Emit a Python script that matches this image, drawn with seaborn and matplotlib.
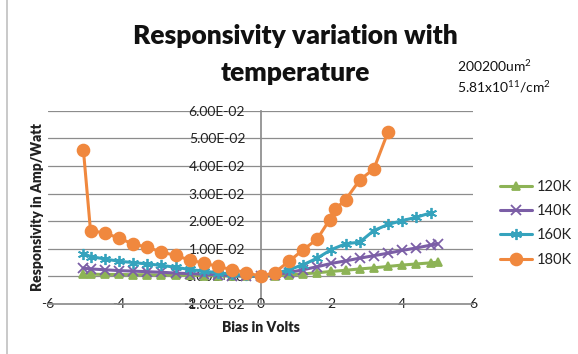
import numpy as np
import pandas as pd
import matplotlib
matplotlib.use("Agg")
import matplotlib.pyplot as plt
from matplotlib.lines import Line2D
from matplotlib.ticker import FuncFormatter
import seaborn as sns

# ---------------- data ----------------
x_common = [-5.0, -4.8, -4.4, -4.0, -3.6, -3.2, -2.8, -2.4, -2.0, -1.6, -1.2, -0.8, -0.4, 0.0,
            0.4, 0.8, 1.2, 1.6, 2.0, 2.4, 2.8, 3.2, 3.6, 4.0, 4.4, 4.8, 5.0]
y_120 = [0.0008, 0.0008, 0.0007, 0.0007, 0.0006, 0.0006, 0.0005, 0.0005, 0.0004, 0.0003, 0.0002, 0.0001, 0.0001, 0.0,
         0.0002, 0.0005, 0.0009, 0.0013, 0.0018, 0.0022, 0.0027, 0.0031, 0.0036, 0.0041, 0.0045, 0.0049, 0.0051]
y_140 = [0.0030, 0.0027, 0.0024, 0.0021, 0.0019, 0.0017, 0.0015, 0.0012, 0.0010, 0.0008, 0.0005, 0.0003, 0.0001, 0.0,
         0.0006, 0.0014, 0.0024, 0.0035, 0.0047, 0.0056, 0.0066, 0.0075, 0.0084, 0.0094, 0.0103, 0.0113, 0.0118]
x_160 = [-5.0, -4.8, -4.4, -4.0, -3.6, -3.2, -2.8, -2.4, -2.0, -1.6, -1.2, -0.8, -0.4, 0.0,
         0.4, 0.8, 1.2, 1.6, 2.0, 2.4, 2.8, 3.2, 3.6, 4.0, 4.4, 4.8]
y_160 = [0.0082, 0.0072, 0.0063, 0.0055, 0.0050, 0.0045, 0.0040, 0.0033, 0.0025, 0.0019, 0.0013, 0.0008, 0.0004, 0.0,
         0.0010, 0.0024, 0.0042, 0.0066, 0.0097, 0.0118, 0.0124, 0.0166, 0.0188, 0.0202, 0.0214, 0.0230]
x_180 = [-5.0, -4.8, -4.4, -4.0, -3.6, -3.2, -2.8, -2.4, -2.0, -1.6, -1.2, -0.8, -0.4, 0.0,
         0.4, 0.8, 1.2, 1.6, 1.95, 2.1, 2.4, 2.8, 3.2, 3.6]
y_180 = [0.0457, 0.0166, 0.0157, 0.0139, 0.0117, 0.0106, 0.0088, 0.0076, 0.0059, 0.0048, 0.0036, 0.0024, 0.0014, 0.0,
         0.0014, 0.0054, 0.0096, 0.0135, 0.0205, 0.0243, 0.0277, 0.0349, 0.0389, 0.0523]

series_names = ["120K", "140K", "160K", "180K"]
y_ticks = [-0.01, 0.0, 0.01, 0.02, 0.03, 0.04, 0.05, 0.06]
x_ticks = [-6, -4, -2, 0, 2, 4, 6]

frames = [
    pd.DataFrame({"Bias": x_common, "Resp": y_120, "Temp": "120K"}),
    pd.DataFrame({"Bias": x_common, "Resp": y_140, "Temp": "140K"}),
    pd.DataFrame({"Bias": x_160, "Resp": y_160, "Temp": "160K"}),
    pd.DataFrame({"Bias": x_180, "Resp": y_180, "Temp": "180K"}),
]

# ---------------- style ----------------
sns.set_theme(style="white")
plt.rcParams["font.family"] = ["Lato", "DejaVu Sans"]
plt.rcParams["mathtext.fontset"] = "custom"
plt.rcParams["mathtext.rm"] = "Lato"
plt.rcParams["mathtext.it"] = "Lato"
plt.rcParams["mathtext.bf"] = "Lato:bold"

colors = {"120K": "#8DB356", "140K": "#7B5EA6", "160K": "#35A3BD", "180K": "#F0883E"}
markers = {"120K": "^", "140K": "x", "160K": (6, 2, 0), "180K": "o"}
msizes = {"120K": 6, "140K": 7, "160K": 8, "180K": 8.5}

fig = plt.figure(figsize=(5.78, 3.54), dpi=100)
ax = fig.add_axes([48 / 578, 1 - 304 / 354, (473 - 48) / 578, (304 - 110.7) / 354])

for name, df in zip(series_names, frames):
    sns.lineplot(data=df, x="Bias", y="Resp", ax=ax, color=colors[name], marker=markers[name],
                 markersize=msizes[name], markeredgecolor=colors[name], markeredgewidth=1.3,
                 linewidth=2.2, estimator=None, sort=False, label=name, legend=False)

ax.set_xlim(-6, 6)
ax.set_ylim(-0.01, 0.06)
ax.set_xticks(x_ticks)
ax.set_yticks(y_ticks)
ax.yaxis.set_major_formatter(FuncFormatter(lambda v, p: f"{v:.2E}"))
ax.xaxis.set_major_formatter(FuncFormatter(lambda v, p: f"{int(round(v))}"))

for yv in y_ticks[1:]:
    ax.axhline(yv, color="#8c8c8c", lw=0.9, zorder=0)

for s in ["top", "right"]:
    ax.spines[s].set_visible(False)
ax.spines["left"].set_position(("data", 0))
ax.spines["left"].set_color("#8c8c8c")
ax.spines["bottom"].set_color("#8c8c8c")
ax.spines["left"].set_zorder(0.5)

ax.tick_params(axis="y", length=0, pad=11, labelsize=10, labelcolor="#222222")
ax.tick_params(axis="x", length=0, pad=0, labelsize=10, labelcolor="#222222")
for lab in ax.get_xticklabels():
    lab.set_va("center")
ax.set_xlabel("")
ax.set_ylabel("")
ax.set_facecolor("none")

# titles & labels
fig.text(295 / 578, 1 - 36 / 354, "Responsivity variation with", ha="center", va="center",
         fontsize=19, weight="heavy", color="#111111")
fig.text(295 / 578, 1 - 73 / 354, "temperature", ha="center", va="center",
         fontsize=19, weight="heavy", color="#111111")
fig.text(457 / 578, 1 - 66 / 354, "200200um$^{2}$", ha="left", va="center", fontsize=10, color="#111111")
fig.text(457 / 578, 1 - 87 / 354, "5.81x10$^{11}$/cm$^{2}$", ha="left", va="center", fontsize=10, color="#111111")
fig.text(38 / 578, 1 - 207 / 354, "Responsivity in Amp/Watt", rotation=90, ha="center", va="center",
         fontsize=10, weight="heavy", color="#222222")
fig.text(261 / 578, 1 - 328 / 354, "Bias in Volts", ha="center", va="center",
         fontsize=10, weight="heavy", color="#222222")

handles = [Line2D([], [], color=colors[n], marker=markers[n], markersize=msizes[n],
                  markeredgecolor=colors[n], markeredgewidth=1.3, linewidth=2.2) for n in series_names]
fig.legend(handles, series_names, loc="upper left", bbox_to_anchor=(500 / 578, 1 - 180 / 354),
           frameon=False, fontsize=10.5, handlelength=2.2, handletextpad=0.3, labelspacing=0.7,
           borderpad=0, borderaxespad=0, labelcolor="#222222")

fig.add_artist(Line2D([7 / 578, 7 / 578], [0, 1], color="#c0c0c0", lw=1.2, transform=fig.transFigure))

fig.savefig("out.png", dpi=100)
